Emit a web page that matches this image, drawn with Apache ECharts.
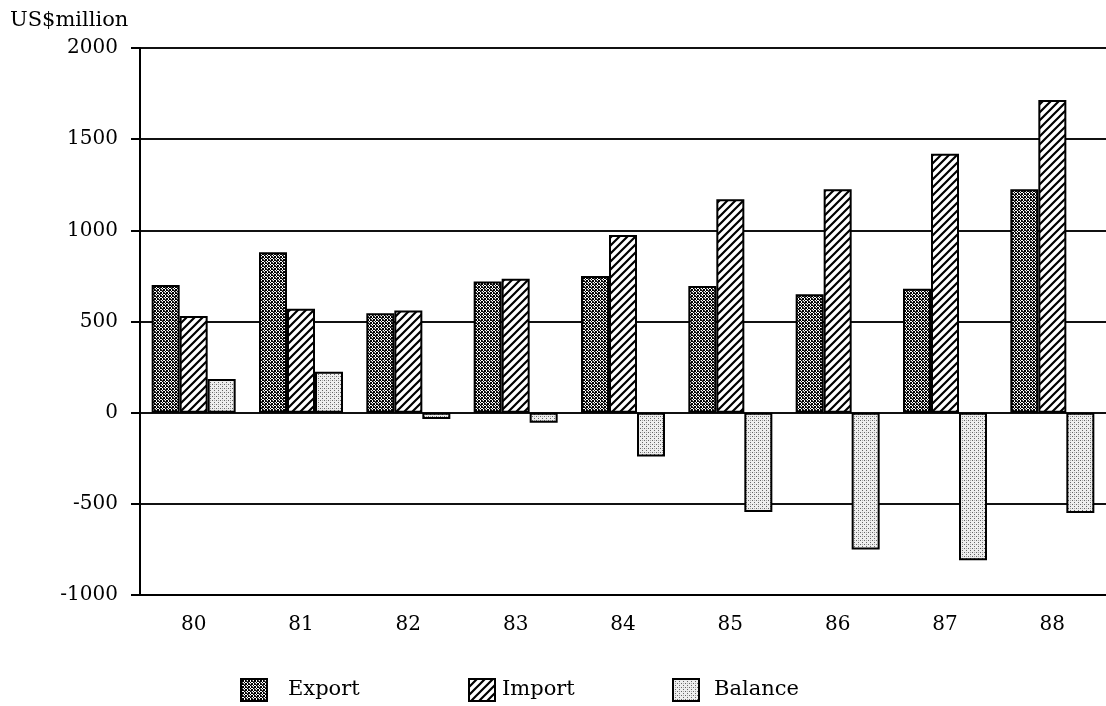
<!DOCTYPE html>
<html>
<head>
<meta charset="utf-8">
<script src="https://cdn.jsdelivr.net/npm/echarts@6/dist/echarts.min.js"></script>
<style>html,body{margin:0;padding:0;background:#fff;}#c{width:1106px;height:706px;}</style>
</head>
<body>
<div id="c"></div>
<script>
var years = ['80','81','82','83','84','85','86','87','88'];
var exportVals = [700, 880, 545, 720, 750, 695, 650, 680, 1225];
var importVals = [530, 570, 560, 735, 975, 1170, 1225, 1420, 1715];
var balanceVals = [185, 225, -35, -55, -240, -545, -750, -810, -550];
var yTicks = {min: -1000, max: 2000, interval: 500};

function tile(size, draw) {
  var c = document.createElement('canvas');
  c.width = size; c.height = size;
  var ctx = c.getContext('2d');
  draw(ctx, size);
  return {image: c, repeat: 'repeat'};
}
var exportPat = tile(6, function (ctx, s) {
  ctx.fillStyle = '#fff'; ctx.fillRect(0, 0, s, s);
  ctx.fillStyle = '#000';
  for (var x = 0; x < s; x++) for (var y = 0; y < s; y++) {
    if ((x - y + 12) % 3 === 0 || (x + y) % 3 === 0) ctx.fillRect(x, y, 1, 1);
  }
  ctx.fillStyle = '#555';
  for (var x2 = 0; x2 < s; x2++) for (var y2 = 0; y2 < s; y2++) {
    if ((x2 - y2 + 12) % 3 === 1 && (x2 + y2) % 2 === 0) ctx.fillRect(x2, y2, 1, 1);
  }
});
var importPat = tile(8, function (ctx, s) {
  ctx.fillStyle = '#fff'; ctx.fillRect(0, 0, s, s);
  ctx.strokeStyle = '#000'; ctx.lineWidth = 2.2;
  ctx.beginPath();
  ctx.moveTo(-2, s + 2); ctx.lineTo(s + 2, -2);
  ctx.moveTo(-2, 2); ctx.lineTo(2, -2);
  ctx.moveTo(s - 2, s + 2); ctx.lineTo(s + 2, s - 2);
  ctx.stroke();
});
var balancePat = tile(4, function (ctx, s) {
  ctx.fillStyle = '#eeeeee'; ctx.fillRect(0, 0, s, s);
  ctx.fillStyle = '#666';
  ctx.fillRect(0, 0, 1, 1); ctx.fillRect(2, 2, 1, 1);
  ctx.fillStyle = '#aaa';
  ctx.fillRect(2, 0, 1, 1);
});

var font = 'DejaVu Serif';
var chart = echarts.init(document.getElementById('c'), null, {renderer: 'canvas'});
function mkLegend(name, left, pad) {
  return {
    data: [name], left: left, top: 673, itemWidth: 26, itemHeight: 22,
    icon: 'rect',
    textStyle: {fontFamily: font, fontSize: 21, color: '#000', padding: [0, 0, 0, pad]}
  };
}
function barStyle(pat) {
  return {color: pat, borderColor: '#000', borderWidth: 2};
}
chart.setOption({
  animation: false,
  backgroundColor: '#fff',
  title: {text: 'US$million', left: 5, top: 5,
    textStyle: {fontFamily: font, fontSize: 21, fontWeight: 'normal', color: '#000'}},
  legend: [mkLegend('Export', 235, 16), mkLegend('Import', 463, 2), mkLegend('Balance', 667, 10)],
  grid: {left: 140, right: 0, top: 48, bottom: 111},
  xAxis: {
    type: 'category', data: years,
    axisLine: {onZero: false, lineStyle: {color: '#000', width: 2}},
    axisTick: {alignWithLabel: true, length: 10, lineStyle: {color: '#000', width: 2}},
    axisLabel: {fontFamily: font, fontSize: 20, color: '#000', margin: 20}
  },
  yAxis: {
    type: 'value', min: yTicks.min, max: yTicks.max, interval: yTicks.interval,
    axisLine: {show: true, lineStyle: {color: '#000', width: 2}},
    axisTick: {show: true, length: 9, lineStyle: {color: '#000', width: 2}},
    axisLabel: {fontFamily: font, fontSize: 20, color: '#000', margin: 22,
      formatter: function (v) { return String(v); }},
    splitLine: {show: true, lineStyle: {color: '#111', width: 2}}
  },
  series: [
    {name: 'Export', type: 'bar', data: exportVals, barWidth: 28, barGap: '0%', itemStyle: barStyle(exportPat)},
    {name: 'Import', type: 'bar', data: importVals, barWidth: 28, barGap: '0%', itemStyle: barStyle(importPat)},
    {name: 'Balance', type: 'bar', data: balanceVals, barWidth: 28, barGap: '0%', itemStyle: barStyle(balancePat)}
  ]
});
</script>
</body>
</html>
